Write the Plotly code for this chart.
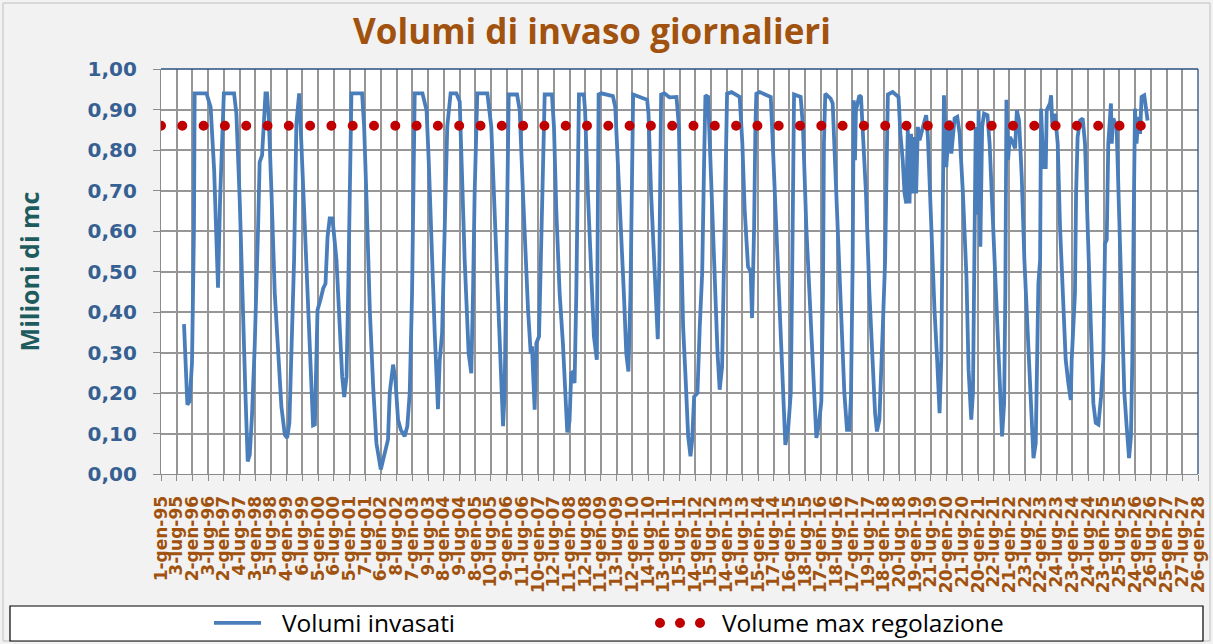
import pandas as pd
import plotly.graph_objects as go

# ---------------- DATA ----------------
data_inizio = "1995-01-01"
passo_giorni_asse = 183

etichette_asse_x = [
    "1-gen-95", "3-lug-95", "2-gen-96", "3-lug-96", "2-gen-97", "4-lug-97", "3-gen-98", "5-lug-98",
    "4-gen-99", "6-lug-99", "5-gen-00", "6-lug-00", "5-gen-01", "7-lug-01", "6-gen-02", "8-lug-02",
    "7-gen-03", "9-lug-03", "8-gen-04", "9-lug-04", "8-gen-05", "10-lug-05", "9-gen-06", "11-lug-06",
    "10-gen-07", "12-lug-07", "11-gen-08", "12-lug-08", "11-gen-09", "13-lug-09", "12-gen-10", "14-lug-10",
    "13-gen-11", "15-lug-11", "14-gen-12", "15-lug-12", "14-gen-13", "16-lug-13", "15-gen-14", "17-lug-14",
    "16-gen-15", "18-lug-15", "17-gen-16", "18-lug-16", "17-gen-17", "19-lug-17", "18-gen-18", "20-lug-18",
    "19-gen-19", "21-lug-19", "20-gen-20", "21-lug-20", "20-gen-21", "22-lug-21", "21-gen-22", "23-lug-22",
    "22-gen-23", "24-lug-23", "23-gen-24", "24-lug-24", "23-gen-25", "25-lug-25", "24-gen-26", "26-lug-26",
    "25-gen-27", "27-lug-27", "26-gen-28",
]

# days since 1-gen-95 and daily stored volume (million m3)
giorni = [
    268, 307, 334, 361, 384, 392, 529, 578, 619, 644, 664, 688, 716, 732, 851, 878, 917, 955, 983, 1010,
    1034, 1061, 1092, 1131, 1149, 1177, 1200, 1217, 1235, 1255, 1286, 1325, 1371, 1402, 1442, 1469, 1495,
    1519, 1550, 1577, 1609, 1636, 1674, 1713, 1744, 1771, 1792, 1810, 1823, 1857, 1889, 1916, 1940, 1965,
    1997, 2044, 2083, 2110, 2134, 2161, 2180, 2200, 2218, 2342, 2366, 2394, 2432, 2471, 2509, 2560, 2606,
    2644, 2664, 2703, 2730, 2761, 2793, 2838, 2869, 2897, 2924, 2946, 2955, 3045, 3093, 3118, 3149, 3188,
    3226, 3246, 3274, 3305, 3334, 3373, 3440, 3479, 3497, 3537, 3583, 3614, 3634, 3653, 3684, 3801, 3847,
    3885, 3925, 3956, 3984, 4002, 4033, 4050, 4147, 4178, 4216, 4255, 4275, 4306, 4321, 4352, 4372, 4403,
    4429, 4460, 4469, 4553, 4577, 4604, 4643, 4681, 4709, 4732, 4758, 4778, 4805, 4817, 4837, 4855, 4868,
    4925, 4939, 4972, 5011, 5042, 5076, 5087, 5097, 5128, 5263, 5291, 5322, 5360, 5391, 5419, 5444, 5468,
    5488, 5499, 5662, 5678, 5708, 5748, 5786, 5805, 5825, 5863, 5922, 6004, 6032, 6054, 6081, 6109, 6140,
    6167, 6187, 6209, 6248, 6275, 6303, 6326, 6341, 6372, 6403, 6442, 6482, 6507, 6535, 6559, 6577, 6593,
    6645, 6740, 6771, 6798, 6837, 6868, 6884, 6908, 6923, 6934, 6974, 7102, 7117, 7148, 7186, 7225, 7256,
    7272, 7304, 7335, 7349, 7366, 7373, 7450, 7477, 7516, 7567, 7605, 7633, 7660, 7691, 7710, 7721, 7737,
    7799, 7823, 7854, 7889, 7920, 7959, 7990, 8017, 8036, 8056, 8068, 8083, 8094, 8134, 8153, 8173, 8211,
    8251, 8290, 8317, 8339, 8367, 8407, 8434, 8456, 8466, 8522, 8590, 8612, 8639, 8660, 8680, 8698, 8718,
    8736, 8757, 8777, 8795, 8815, 8835, 8874, 8912, 8932, 8971, 9009, 9040, 9068, 9088, 9108, 9119, 9134,
    9146, 9166, 9185, 9205, 9243, 9274, 9302, 9340, 9381, 9406, 9437, 9457, 9478, 9489, 9509, 9523, 9543,
    9564, 9586, 9626, 9651, 9692, 9730, 9769, 9796, 9820, 9834, 9847, 9866, 9886, 9909, 9948, 9968, 9994,
    10025, 10056, 10096, 10135, 10162, 10188, 10211, 10219, 10239, 10250, 10277, 10305, 10316, 10354, 10367,
    10382, 10413, 10444, 10471, 10510, 10537, 10568, 10596, 10607, 10627, 10645, 10658, 10676, 10704, 10735,
    10762, 10793, 10832, 10859, 10887, 10918, 10949, 10975, 10995, 11015, 11033, 11053, 11064, 11073, 11092,
    11130, 11158, 11189, 11220, 11247, 11275, 11297, 11313, 11328, 11344, 11362, 11383, 11403, 11421, 11452,
    11480, 11491,
]
volumi_invasati = [
    0.370, 0.171, 0.180, 0.274, 0.610, 0.940, 0.940, 0.906, 0.750, 0.578, 0.460, 0.676, 0.873, 0.940, 0.940,
    0.890, 0.676, 0.364, 0.200, 0.031, 0.048, 0.150, 0.320, 0.610, 0.770, 0.787, 0.906, 0.940, 0.940, 0.880,
    0.700, 0.446, 0.280, 0.167, 0.097, 0.089, 0.126, 0.323, 0.528, 0.865, 0.940, 0.810, 0.610, 0.380, 0.224,
    0.120, 0.122, 0.280, 0.405, 0.430, 0.458, 0.470, 0.586, 0.631, 0.631, 0.528, 0.348, 0.241, 0.190, 0.241,
    0.446, 0.693, 0.940, 0.940, 0.857, 0.676, 0.405, 0.216, 0.076, 0.011, 0.052, 0.085, 0.200, 0.270, 0.232,
    0.134, 0.109, 0.093, 0.118, 0.200, 0.446, 0.816, 0.940, 0.940, 0.898, 0.775, 0.569, 0.348, 0.160, 0.280,
    0.348, 0.610, 0.857, 0.940, 0.940, 0.920, 0.775, 0.528, 0.298, 0.249, 0.446, 0.693, 0.940, 0.940, 0.857,
    0.652, 0.446, 0.233, 0.118, 0.200, 0.610, 0.937, 0.937, 0.898, 0.693, 0.487, 0.405, 0.298, 0.315, 0.159,
    0.323, 0.340, 0.610, 0.857, 0.937, 0.937, 0.857, 0.652, 0.446, 0.323, 0.200, 0.103, 0.130, 0.249, 0.253,
    0.224, 0.446, 0.693, 0.937, 0.937, 0.898, 0.693, 0.487, 0.340, 0.282, 0.610, 0.937, 0.940, 0.933, 0.906,
    0.775, 0.569, 0.446, 0.298, 0.253, 0.446, 0.693, 0.937, 0.924, 0.890, 0.693, 0.487, 0.333, 0.528, 0.937,
    0.940, 0.930, 0.931, 0.857, 0.610, 0.364, 0.241, 0.093, 0.044, 0.085, 0.191, 0.200, 0.364, 0.495, 0.775,
    0.935, 0.931, 0.775, 0.528, 0.298, 0.208, 0.265, 0.528, 0.775, 0.939, 0.943, 0.931, 0.816, 0.652, 0.512,
    0.500, 0.385, 0.610, 0.857, 0.939, 0.943, 0.931, 0.857, 0.693, 0.487, 0.282, 0.109, 0.072, 0.109, 0.200,
    0.446, 0.816, 0.937, 0.931, 0.857, 0.610, 0.364, 0.200, 0.089, 0.118, 0.179, 0.446, 0.816, 0.939, 0.927,
    0.915, 0.750, 0.528, 0.364, 0.200, 0.109, 0.109, 0.191, 0.528, 0.923, 0.775, 0.898, 0.935, 0.931, 0.857,
    0.693, 0.446, 0.282, 0.150, 0.105, 0.134, 0.364, 0.528, 0.816, 0.937, 0.943, 0.931, 0.840, 0.775, 0.693,
    0.668, 0.849, 0.668, 0.840, 0.693, 0.832, 0.693, 0.857, 0.824, 0.857, 0.886, 0.832, 0.610, 0.405, 0.282,
    0.150, 0.282, 0.610, 0.935, 0.857, 0.758, 0.816, 0.873, 0.791, 0.878, 0.882, 0.840, 0.693, 0.487, 0.257,
    0.134, 0.200, 0.610, 0.857, 0.640, 0.898, 0.561, 0.857, 0.890, 0.886, 0.816, 0.610, 0.405, 0.216, 0.093,
    0.175, 0.446, 0.924, 0.775, 0.832, 0.824, 0.804, 0.898, 0.873, 0.734, 0.528, 0.323, 0.159, 0.039, 0.076,
    0.323, 0.471, 0.528, 0.902, 0.758, 0.758, 0.898, 0.915, 0.935, 0.857, 0.890, 0.816, 0.610, 0.380, 0.282,
    0.224, 0.183, 0.282, 0.389, 0.446, 0.693, 0.832, 0.873, 0.878, 0.816, 0.610, 0.364, 0.175, 0.126, 0.122,
    0.191, 0.282, 0.569, 0.578, 0.816, 0.869, 0.915, 0.816, 0.878, 0.857, 0.652, 0.405, 0.200, 0.118, 0.039,
    0.093, 0.282, 0.610, 0.902, 0.816, 0.882, 0.840, 0.931, 0.935, 0.900, 0.873,
]

volume_max_regolazione = 0.86
giorni_regolazione = [0, 11491]

nomi_serie = ["Volumi invasati", "Volume max regolazione"]
titolo = "Volumi di invaso giornalieri"
titolo_asse_y = "Milioni di mc"

# ---------------- FIGURE ----------------
W, H = 1213, 644
ML, MR, MT, MB = 161, 15, 69, 170
PW, PH = W - ML - MR, H - MT - MB


def px_x(x):
    return (x - ML) / PW


def px_y(y):
    return (H - MB - y) / PH


t0 = pd.Timestamp(data_inizio)
x_vol = [t0 + pd.Timedelta(days=d) for d in giorni]
x_reg = [t0 + pd.Timedelta(days=d) for d in giorni_regolazione]
tickvals = [t0 + pd.Timedelta(days=passo_giorni_asse * i) for i in range(len(etichette_asse_x))]

BROWN = "#A0520E"
BLUE_TXT = "#376092"
TEAL = "#1E5B5E"
GRID = "#969696"

fig = go.Figure()
fig.add_trace(go.Scatter(
    x=x_vol, y=volumi_invasati, mode="lines", name=nomi_serie[0],
    line=dict(color="#4A7EBB", width=3.8),
))
fig.add_trace(go.Scatter(
    x=x_reg, y=[volume_max_regolazione] * len(x_reg), mode="lines", name=nomi_serie[1],
    line=dict(color="#C00000", width=10, dash="0px,21.3px"),
))

fig.update_layout(
    width=W, height=H,
    margin=dict(l=ML, r=MR, t=MT, b=MB, autoexpand=False),
    paper_bgcolor="#F2F2F2", plot_bgcolor="#FFFFFF",
    separators=",.",
    font=dict(family="Open Sans", color="#000000"),
    title=dict(text=titolo, x=592 / W, xref="container", xanchor="center",
               y=1 - 32 / H, yref="container", yanchor="middle",
               font=dict(family="Open Sans", size=35, color=BROWN, weight="bold")),
    showlegend=True,
    legend=dict(orientation="h", x=px_x(242), xanchor="left", y=px_y(623), yanchor="middle",
                bgcolor="rgba(0,0,0,0)", borderwidth=0, entrywidth=395, entrywidthmode="pixels",
                font=dict(family="Open Sans", size=24.5, color="#000000")),
)

fig.update_xaxes(
    type="date", range=[tickvals[0], tickvals[-1]],
    tickmode="array", tickvals=tickvals, ticktext=etichette_asse_x, tickangle=-90,
    tickfont=dict(family="DejaVu Sans", size=17, color=BROWN, weight="bold"),
    showgrid=True, gridcolor=GRID, gridwidth=1.5,
    showline=True, linecolor="#8C8C8C", linewidth=1.3,
    ticks="outside", ticklen=6, tickcolor="#8C8C8C", tickwidth=1.3,
    ticklabelstandoff=8, zeroline=False,
)
fig.update_yaxes(
    range=[0, 1.0], dtick=0.1, tick0=0, tickformat=".2f",
    tickfont=dict(family="DejaVu Sans", size=20, color=BLUE_TXT, weight="bold"),
    showgrid=True, gridcolor=GRID, gridwidth=1.5,
    showline=True, linecolor="#8C8C8C", linewidth=1.3,
    ticks="outside", ticklen=7, tickcolor="#8C8C8C", tickwidth=1.3,
    ticklabelstandoff=12, zeroline=False,
    title=dict(text=titolo_asse_y, standoff=40,
               font=dict(family="Open Sans", size=25, color=TEAL, weight="bold")),
)

shapes = [
    # outer chart frame
    dict(type="rect", xref="paper", yref="paper", x0=px_x(3), x1=px_x(1210), y0=px_y(3), y1=px_y(641),
         line=dict(color="#BFBFBF", width=1), fillcolor="rgba(0,0,0,0)", layer="below"),
    # legend box
    dict(type="rect", xref="paper", yref="paper", x0=px_x(10), x1=px_x(1203), y0=px_y(606), y1=px_y(641),
         line=dict(color="#000000", width=1.2), fillcolor="#FFFFFF", layer="below"),
    # plot-area border (top and right)
    dict(type="line", xref="paper", yref="paper", x0=0, x1=1, y0=1, y1=1,
         line=dict(color="#2B4F81", width=1.3), layer="above"),
    dict(type="line", xref="paper", yref="paper", x0=1, x1=1, y0=0, y1=1,
         line=dict(color="#2B4F81", width=1.3), layer="above"),
]
fig.update_layout(shapes=shapes)

post = """
document.documentElement.style.margin = '0';
document.body.style.margin = '0';
document.body.style.overflow = 'hidden';
var gd = document.getElementById('{plot_id}');
function styleLines(){
  gd.querySelectorAll('.legend [clip-path]').forEach(function(el){ el.removeAttribute('clip-path'); });
  gd.querySelectorAll('path.js-line').forEach(function(p){
    var d = (p.style.strokeDasharray || '').replace(/\\s/g,'');
    var inLegend = !!p.closest('.legend');
    if (d.indexOf('0px,') === 0 || d.indexOf('0,') === 0) {
      p.style.strokeLinecap = 'round';
      if (inLegend) { p.style.strokeDasharray = '0px,20px'; p.setAttribute('d', 'M-22,0h41'); }
    } else if (inLegend) {
      p.setAttribute('d', 'M-28,0h47');
    }
  });
}
styleLines();
if (gd.on) { gd.on('plotly_afterplot', styleLines); }
"""

fig.write_html("out.html", post_script=post, config={"displayModeBar": False})
